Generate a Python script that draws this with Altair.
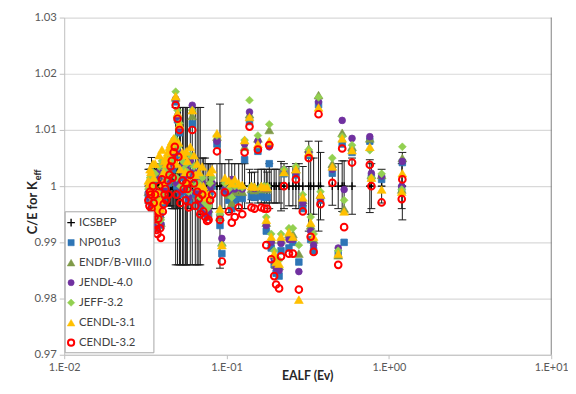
import altair as alt
import pandas as pd

# ---------------- data ----------------
series_names = ["ICSBEP", "NP01u3", "ENDF/B-VIII.0", "JENDL-4.0", "JEFF-3.2", "CENDL-3.1", "CENDL-3.2"]

ealf = [0.0330, 0.0338, 0.0345, 0.0352, 0.0360, 0.0367, 0.0375, 0.0385, 0.0394, 0.0405,
        0.0415, 0.0425, 0.0434, 0.0445, 0.0460, 0.0472, 0.0486, 0.0499, 0.0513, 0.0535,
        0.0558, 0.0574, 0.0598, 0.0615, 0.0642, 0.0660, 0.0689, 0.0708, 0.0738, 0.0759,
        0.0792, 0.0873, 0.0936, 0.0911, 0.0977, 0.1033, 0.1077, 0.1123, 0.1188, 0.1250,
        0.1292, 0.1385, 0.1424, 0.1486, 0.1560, 0.1638, 0.1709, 0.1757, 0.1780, 0.1833,
        0.1884, 0.1965, 0.2020, 0.2107, 0.2166, 0.2259, 0.2423, 0.2563, 0.2674, 0.2789,
        0.2949, 0.3208, 0.3298, 0.3439, 0.3687, 0.3790, 0.4482, 0.4874, 0.5156, 0.5300,
        0.5929, 0.7627, 0.7800, 0.9021, 1.2000, 1.2102,
        0.0335, 0.0342, 0.0349, 0.0356, 0.0363, 0.0371, 0.0380, 0.0390, 0.0400, 0.0410,
        0.0420, 0.0440, 0.0452, 0.0466, 0.0480, 0.0492, 0.0505, 0.0520, 0.0545, 0.0565,
        0.0585, 0.0630, 0.0675, 0.0720, 0.0775, 0.0815]

unc = [0.0030, 0.0040, 0.0051, 0.0030, 0.0035, 0.0030, 0.0040, 0.0030, 0.0035, 0.0030,
       0.0030, 0.0030, 0.0035, 0.0035, 0.0040, 0.0040, 0.0140, 0.0140, 0.0140, 0.0140,
       0.0140, 0.0140, 0.0140, 0.0140, 0.0140, 0.0140, 0.0140, 0.0050, 0.0050, 0.0040,
       0.0040, 0.0040, 0.0040, 0.0146, 0.0040, 0.0047, 0.0040, 0.0040, 0.0040, 0.0040,
       0.0040, 0.0030, 0.0024, 0.0025, 0.0030, 0.0030, 0.0030, 0.0030, 0.0025, 0.0040,
       0.0030, 0.0030, 0.0030, 0.0030, 0.0044, 0.0040, 0.0035, 0.0035, 0.0040, 0.0040,
       0.0035, 0.0080, 0.0050, 0.0050, 0.0080, 0.0060, 0.0034, 0.0040, 0.0045, 0.0045,
       0.0050, 0.0047, 0.0040, 0.0030, 0.0040, 0.0060,
       0.0030, 0.0030, 0.0030, 0.0030, 0.0030, 0.0035, 0.0035, 0.0030, 0.0030, 0.0030,
       0.0030, 0.0035, 0.0035, 0.0040, 0.0040, 0.0040, 0.0040, 0.0140, 0.0140, 0.0140,
       0.0040, 0.0040, 0.0140, 0.0050, 0.0040, 0.0040]

icsbep = [1.0] * len(ealf)

np01u3 = [0.9985, 1.0005, 0.9970, 1.0015, 0.9955, 0.9940, 0.9925, 1.0020, 0.9930, 0.9970,
          1.0010, 1.0000, 1.0025, 1.0035, 1.0050, 1.0060, 1.0150, 1.0118, 1.0095, 1.0030,
          0.9990, 1.0010, 1.0040, 1.0111, 0.9985, 1.0005, 0.9965, 1.0000, 0.9955, 0.9945,
          0.9990, 1.0075, 0.9880, 0.9930, 0.9990, 0.9975, 0.9960, 0.9975, 0.9980, 0.9978,
          1.0047, 1.0115, 0.9982, 0.9980, 1.0062, 0.9982, 0.9980, 0.9920, 0.9980, 1.0040,
          0.9890, 0.9860, 0.9845, 0.9840, 0.9885, 1.0022, 0.9890, 0.9900, 1.0020, 0.9865,
          0.9960, 1.0055, 0.9905, 0.9885, 1.0145, 0.9975, 1.0023, 0.9880, 1.0075, 0.9900,
          1.0060, 1.0080, 1.0015, 1.0012, 0.9996, 1.0042,
          0.9975, 1.0000, 0.9960, 0.9985, 1.0010, 0.9935, 0.9960, 0.9945, 1.0030, 0.9990,
          1.0015, 1.0005, 1.0045, 1.0030, 1.0070, 1.0000, 1.0055, 0.9985, 1.0015, 1.0025,
          0.9975, 1.0020, 0.9990, 0.9965, 0.9950, 1.0000]

endf80 = [0.9990, 1.0010, 0.9975, 1.0020, 0.9960, 0.9945, 0.9932, 1.0028, 0.9935, 0.9980,
          1.0018, 1.0008, 1.0032, 1.0042, 1.0058, 1.0068, 1.0158, 1.0128, 1.0108, 1.0038,
          0.9998, 1.0020, 1.0048, 1.0125, 0.9995, 1.0012, 0.9975, 1.0010, 0.9962, 0.9955,
          1.0000, 1.0088, 0.9900, 0.9945, 1.0000, 0.9985, 0.9970, 0.9990, 0.9995, 0.9990,
          1.0070, 1.0128, 0.9995, 0.9993, 1.0085, 0.9995, 0.9995, 0.9935, 0.9995, 1.0100,
          0.9905, 0.9878, 0.9860, 0.9858, 0.9905, 1.0028, 0.9915, 0.9915, 1.0030, 0.9880,
          0.9975, 1.0067, 0.9930, 0.9905, 1.0162, 0.9985, 1.0040, 0.9877, 1.0095, 0.9960,
          1.0070, 1.0085, 1.0020, 1.0020, 0.9994, 1.0050,
          0.9982, 1.0008, 0.9968, 0.9992, 1.0018, 0.9940, 0.9968, 0.9950, 1.0038, 0.9998,
          1.0022, 1.0012, 1.0055, 1.0038, 1.0078, 1.0008, 1.0062, 0.9995, 1.0022, 1.0032,
          0.9985, 1.0028, 0.9998, 0.9975, 0.9960, 1.0008]

jendl40 = [0.9988, 1.0008, 0.9972, 1.0018, 0.9958, 0.9942, 0.9930, 1.0025, 0.9932, 0.9975,
           1.0015, 1.0005, 1.0030, 1.0040, 1.0055, 1.0065, 1.0155, 1.0125, 1.0105, 1.0035,
           0.9995, 1.0015, 1.0045, 1.0144, 0.9990, 1.0010, 0.9970, 1.0005, 0.9960, 0.9950,
           0.9995, 1.0080, 0.9907, 0.9948, 0.9995, 0.9990, 1.0012, 0.9995, 0.9998, 0.9995,
           1.0075, 1.0132, 0.9998, 0.9996, 1.0080, 0.9998, 0.9996, 0.9930, 0.9996, 1.0070,
           0.9900, 0.9870, 0.9855, 0.9850, 0.9898, 1.0030, 0.9905, 0.9905, 1.0025, 0.9848,
           0.9970, 1.0060, 0.9920, 0.9895, 1.0150, 0.9980, 1.0030, 0.9890, 1.0117, 0.9994,
           1.0085, 1.0088, 1.0023, 1.0018, 1.0000, 1.0044,
           0.9980, 1.0005, 0.9965, 0.9990, 1.0015, 0.9938, 0.9965, 0.9948, 1.0035, 0.9995,
           1.0020, 1.0010, 1.0050, 1.0035, 1.0075, 1.0005, 1.0060, 0.9990, 1.0020, 1.0030,
           0.9980, 1.0025, 0.9995, 0.9970, 0.9955, 1.0005]

jeff32 = [0.9995, 1.0015, 0.9980, 1.0025, 0.9965, 0.9950, 0.9938, 1.0035, 0.9940, 0.9985,
          1.0025, 1.0015, 1.0040, 1.0050, 1.0065, 1.0075, 1.0168, 1.0135, 1.0112, 1.0045,
          1.0005, 1.0025, 1.0055, 1.0135, 1.0000, 1.0020, 0.9980, 1.0015, 0.9970, 0.9960,
          1.0005, 1.0090, 0.9895, 0.9950, 1.0005, 0.9995, 0.9980, 1.0000, 1.0000, 0.9998,
          1.0082, 1.0153, 1.0000, 0.9998, 1.0090, 1.0000, 1.0000, 0.9945, 1.0000, 1.0110,
          0.9915, 0.9885, 0.9870, 0.9868, 0.9915, 1.0030, 0.9925, 0.9925, 1.0035, 0.9895,
          0.9985, 1.0065, 0.9945, 0.9915, 1.0158, 0.9990, 1.0050, 0.9885, 1.0088, 0.9975,
          1.0073, 1.0064, 1.0015, 1.0022, 0.9994, 1.0070,
          0.9988, 1.0012, 0.9972, 0.9998, 1.0022, 0.9945, 0.9972, 0.9955, 1.0045, 1.0005,
          1.0030, 1.0020, 1.0062, 1.0045, 1.0085, 1.0015, 1.0070, 1.0000, 1.0030, 1.0040,
          0.9990, 1.0035, 1.0005, 0.9980, 0.9965, 1.0015]

cendl31 = [1.0010, 1.0030, 0.9995, 1.0040, 0.9985, 0.9970, 0.9955, 1.0055, 0.9960, 1.0005,
           1.0045, 1.0040, 1.0060, 1.0070, 1.0080, 1.0085, 1.0160, 1.0130, 1.0110, 1.0060,
           1.0025, 1.0045, 1.0070, 1.0135, 1.0020, 1.0040, 1.0000, 1.0035, 0.9990, 0.9980,
           1.0025, 1.0094, 0.9895, 0.9960, 1.0015, 1.0010, 1.0005, 1.0012, 1.0005, 1.0002,
           1.0082, 1.0123, 1.0000, 0.9999, 1.0075, 1.0000, 0.9998, 0.9940, 0.9998, 1.0080,
           0.9910, 0.9880, 0.9865, 0.9862, 0.9910, 1.0025, 0.9918, 0.9910, 1.0030, 0.9798,
           0.9980, 1.0060, 0.9935, 0.9910, 1.0140, 0.9985, 1.0035, 0.9880, 1.0085, 0.9955,
           1.0064, 1.0070, 1.0015, 0.9994, 0.9990, 1.0023,
           1.0005, 1.0025, 0.9990, 1.0015, 1.0040, 0.9965, 0.9990, 0.9975, 1.0065, 1.0025,
           1.0050, 1.0045, 1.0075, 1.0065, 1.0080, 1.0040, 1.0078, 1.0030, 1.0055, 1.0062,
           1.0010, 1.0055, 1.0025, 1.0000, 0.9985, 1.0030]

cendl32 = [0.9975, 0.9990, 0.9960, 1.0000, 0.9945, 0.9930, 0.9915, 1.0000, 0.9908, 0.9955,
           0.9985, 0.9975, 1.0010, 1.0020, 1.0045, 1.0060, 1.0144, 1.0120, 1.0100, 1.0010,
           0.9975, 0.9995, 1.0020, 1.0100, 0.9965, 0.9990, 0.9950, 0.9985, 0.9945, 0.9938,
           0.9975, 1.0062, 0.9866, 0.9940, 0.9989, 0.9955, 0.9935, 0.9945, 0.9962, 0.9950,
           1.0060, 1.0106, 0.9962, 0.9960, 1.0065, 0.9962, 0.9960, 0.9895, 0.9960, 1.0073,
           0.9870, 0.9840, 0.9825, 0.9818, 0.9875, 1.0000, 0.9880, 0.9880, 1.0012, 0.9816,
           0.9955, 1.0050, 0.9910, 0.9883, 1.0128, 0.9968, 1.0006, 0.9860, 1.0067, 0.9927,
           1.0042, 1.0038, 1.0000, 0.9971, 0.9977, 1.0012,
           0.9965, 0.9985, 0.9950, 0.9970, 0.9985, 0.9922, 0.9942, 0.9925, 1.0012, 0.9968,
           0.9995, 0.9985, 1.0035, 1.0015, 1.0070, 0.9985, 1.0052, 0.9970, 0.9995, 1.0005,
           0.9962, 1.0005, 0.9978, 0.9955, 0.9940, 0.9985]

x_tick_values = [0.01, 0.1, 1, 10]
x_tick_labels = ["1.E-02", "1.E-01", "1.E+00", "1.E+01"]
y_tick_values = [0.97, 0.98, 0.99, 1.0, 1.01, 1.02, 1.03]

# ---------------- styling ----------------
fill_colors = ["transparent", "#2E75B6", "#7F9A48", "#7030A0", "#92D050", "#FFC000", "transparent"]
stroke_colors = ["#000000", "#2E75B6", "#7F9A48", "#7030A0", "#92D050", "#FFC000", "#FF0000"]
shapes = ["M-1,0L1,0M0,-1L0,1", "square", "triangle-up", "circle", "diamond", "triangle-up", "circle"]
sizes = [60, 44, 80, 46, 64, 80, 46]
stroke_widths = [1.4, 0.8, 0.6, 0.8, 0.6, 0.6, 2.0]
legend_sizes = [60, 40, 60, 40, 55, 60, 40]

FONT = "Lato"
W, H = 494, 342

# ---------------- tables ----------------
all_vals = [icsbep, np01u3, endf80, jendl40, jeff32, cendl31, cendl32]

err = pd.DataFrame({"ealf": ealf,
                    "lo": [1.0 - u for u in unc],
                    "hi": [1.0 + u for u in unc]})
caps = pd.DataFrame({"ealf": ealf + ealf,
                     "y": [1.0 - u for u in unc] + [1.0 + u for u in unc]})

label_expr = " : ".join(
    [f"datum.value == {v} ? '{l}'" for v, l in zip(x_tick_values, x_tick_labels)]) + " : ''"

xscale = alt.Scale(type="log", domain=[0.01, 10])
yscale = alt.Scale(domain=[0.97, 1.03], nice=False, zero=False)

xaxis = alt.Axis(values=x_tick_values, labelExpr=label_expr, title=None, grid=False,
                 tickSize=4, labelPadding=3, labelFont=FONT, labelFontSize=11,
                 labelColor="#595959", domainColor="#bfbfbf", tickColor="#bfbfbf",
                 labelFlush=False)
yaxis = alt.Axis(values=y_tick_values, format=".2~f", title=None, grid=True,
                 gridColor="#d9d9d9", gridWidth=1.2, tickSize=5, labelPadding=3,
                 labelFont=FONT, labelFontSize=11.5, labelColor="#595959",
                 domainColor="#bfbfbf", tickColor="#bfbfbf", labelFlush=False)

axes_layer = alt.Chart(err).mark_point(opacity=0).encode(
    x=alt.X("ealf:Q", scale=xscale, axis=xaxis),
    y=alt.Y("lo:Q", scale=yscale, axis=yaxis),
)

rules = alt.Chart(err).mark_rule(color="#1a1a1a", strokeWidth=1).encode(
    x=alt.X("ealf:Q", scale=xscale),
    y=alt.Y("lo:Q", scale=yscale),
    y2="hi:Q",
)

cap_marks = alt.Chart(caps).mark_point(shape="M-1,0L1,0", size=64, stroke="#1a1a1a",
                                       strokeWidth=1, filled=False, opacity=1).encode(
    x=alt.X("ealf:Q", scale=xscale),
    y=alt.Y("y:Q", scale=yscale),
)

series_layers = []
for i, (name, vals) in enumerate(zip(series_names, all_vals)):
    df = pd.DataFrame({"ealf": ealf, "value": vals, "series": name})
    series_layers.append(
        alt.Chart(df).mark_point(shape=shapes[i], fill=fill_colors[i], stroke=stroke_colors[i],
                                 size=sizes[i], strokeWidth=stroke_widths[i], opacity=1,
                                 fillOpacity=1, strokeOpacity=1).encode(
            x=alt.X("ealf:Q", scale=xscale),
            y=alt.Y("value:Q", scale=yscale),
        )
    )

right_border = alt.Chart(pd.DataFrame({"a": [0]})).mark_rule(color="#7f7f7f", strokeWidth=1).encode(
    x=alt.value(W), y=alt.value(0), y2=alt.value(H))

# ---------------- legend (drawn inside the plot, bottom-left) ----------------
leg_top, leg_left, leg_w, leg_h = 197, 1, 90, 143
row_h = 20.3
leg_df = pd.DataFrame({"series": series_names,
                       "ly": [leg_top + 11 + row_h * i for i in range(len(series_names))]})

legend_box = alt.Chart(pd.DataFrame({"a": [0]})).mark_rect(
    fill="white", stroke="#a6a6a6", strokeWidth=1).encode(
    x=alt.value(leg_left), x2=alt.value(leg_left + leg_w),
    y=alt.value(leg_top), y2=alt.value(leg_top + leg_h))

legend_symbols = []
for i, name in enumerate(series_names):
    legend_symbols.append(
        alt.Chart(leg_df[leg_df["series"] == name]).mark_point(
            shape=shapes[i], fill=fill_colors[i], stroke=stroke_colors[i],
            size=legend_sizes[i], strokeWidth=max(stroke_widths[i], 1.2) if i in (0, 6) else 0.5,
            opacity=1).encode(
            x=alt.value(leg_left + 6),
            y=alt.Y("ly:Q", scale=None, axis=None),
        )
    )

legend_labels = alt.Chart(leg_df).mark_text(
    font=FONT, fontSize=11.5, color="#404040", align="left", baseline="middle").encode(
    x=alt.value(leg_left + 14),
    y=alt.Y("ly:Q", scale=None, axis=None),
    text="series:N",
)

# ---------------- titles ----------------
xtitle = alt.Chart(pd.DataFrame({"t": ["EALF (Ev)"]})).mark_text(
    font=FONT, fontSize=12.5, fontWeight="bold", color="#262626", baseline="middle", align="center"
).encode(text="t:N", x=alt.value(W / 2), y=alt.value(364))

ytitle_main = alt.Chart(pd.DataFrame({"t": ["C/E for K"]})).mark_text(
    font=FONT, fontSize=13, fontWeight="bold", color="#262626", baseline="middle",
    align="right", angle=270
).encode(text="t:N", x=alt.value(-32), y=alt.value(166))

ytitle_sub = alt.Chart(pd.DataFrame({"t": ["eff"]})).mark_text(
    font=FONT, fontSize=9, fontWeight="bold", color="#262626", baseline="middle",
    align="left", angle=270
).encode(text="t:N", x=alt.value(-27), y=alt.value(165))

chart = alt.layer(
    axes_layer, rules, cap_marks, *series_layers, right_border,
    legend_box, *legend_symbols, legend_labels,
    xtitle, ytitle_main, ytitle_sub
).properties(
    width=W, height=H, autosize="none",
    padding={"left": 57, "top": 7, "right": 17, "bottom": 29},
).configure_view(stroke=None)

chart.save("out.html", embed_options={"renderer": "svg", "actions": False})
